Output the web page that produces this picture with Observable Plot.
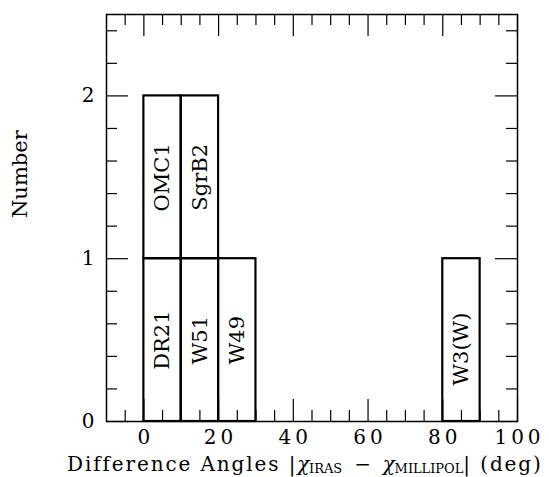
<!DOCTYPE html>
<html><head><meta charset="utf-8">
<script src="https://cdn.jsdelivr.net/npm/d3@7"></script>
<script src="https://cdn.jsdelivr.net/npm/@observablehq/plot@0.6"></script>
<style>
body{margin:0;background:#fff}
#chart svg{display:block}
#chart g[aria-label="x-axis tick label"] text{letter-spacing:4px}
</style></head><body><div id="chart"></div>
<script>
const sources = ["DR21", "OMC1", "W51", "SgrB2", "W49", "W3(W)"];
const binStart = [0, 0, 10, 10, 20, 80];
const binEnd = [10, 10, 20, 20, 30, 90];
const stackLow = [0, 1, 0, 1, 0, 0];
const stackHigh = [1, 2, 1, 2, 1, 1];
const xMajorTicks = [0, 20, 40, 60, 80, 100];
const xMinorTicks = [-5, 5, 10, 15, 25, 30, 35, 45, 50, 55, 65, 70, 75, 85, 90, 95];
const yMajorTicks = [0, 1, 2];
const yMinorTicks = [0.2, 0.4, 0.6, 0.8, 1.2, 1.4, 1.6, 1.8, 2.2, 2.4];

const W = 549, H = 477;
const mt = 14, mr = 32, mb = 56, ml = 106;
const pw = W - ml - mr, ph = H - mt - mb;
const big = 22, small = 11;
const idx = d3.range(sources.length);
const font = "'DejaVu Serif', serif";

const chart = Plot.plot({
  width: W, height: H,
  marginTop: mt, marginRight: mr, marginBottom: mb, marginLeft: ml,
  style: {fontFamily: font, fontSize: "20px", color: "black", background: "white"},
  x: {domain: [-10, 100]},
  y: {domain: [0, 2.5]},
  marks: [
    // ticks on all four sides, pointing inward
    Plot.ruleX(xMajorTicks, {x: d => d, insetTop: ph - big, stroke: "black", strokeWidth: 1.2}),
    Plot.ruleX(xMajorTicks, {x: d => d, insetBottom: ph - big, stroke: "black", strokeWidth: 1.2}),
    Plot.ruleX(xMinorTicks, {x: d => d, insetTop: ph - small, stroke: "black", strokeWidth: 1.2}),
    Plot.ruleX(xMinorTicks, {x: d => d, insetBottom: ph - small, stroke: "black", strokeWidth: 1.2}),
    Plot.ruleY(yMajorTicks, {y: d => d, insetRight: pw - big, stroke: "black", strokeWidth: 1.2}),
    Plot.ruleY(yMajorTicks, {y: d => d, insetLeft: pw - big, stroke: "black", strokeWidth: 1.2}),
    Plot.ruleY(yMinorTicks, {y: d => d, insetRight: pw - small, stroke: "black", strokeWidth: 1.2}),
    Plot.ruleY(yMinorTicks, {y: d => d, insetLeft: pw - small, stroke: "black", strokeWidth: 1.2}),
    Plot.rect(idx, {
      x1: i => binStart[i], x2: i => binEnd[i],
      y1: i => stackLow[i], y2: i => stackHigh[i],
      fill: "none", stroke: "black", strokeWidth: 2.2
    }),
    Plot.text(idx.filter(i => sources[i] !== "W3(W)"), {
      x: i => (binStart[i] + binEnd[i]) / 2,
      y: i => (stackLow[i] + stackHigh[i]) / 2,
      text: i => sources[i], rotate: -90, fontSize: 21, fill: "black"
    }),
    Plot.text(idx.filter(i => sources[i] === "W3(W)"), {
      x: i => (binStart[i] + binEnd[i]) / 2,
      y: i => (stackLow[i] + stackHigh[i]) / 2,
      text: i => sources[i], rotate: -90, fontSize: 21, fill: "black", dy: 9
    }),
    Plot.frame({stroke: "black", strokeWidth: 1.5}),
    Plot.axisX({ticks: xMajorTicks, tickFormat: d3.format("d"), tickSize: 0, tickPadding: 8, label: null, dx: 2, fontSize: 20}),
    Plot.axisY({ticks: yMajorTicks, tickFormat: d3.format("d"), tickSize: 0, tickPadding: 12, label: null, fontSize: 20}),
    Plot.text(["Number"], {frameAnchor: "left", dx: -86, rotate: -90, fontSize: 21, fill: "black"})
  ]
});

// x-axis title with subscripted chi symbols
const svg = d3.select(chart);
const t = svg.append("text")
  .attr("x", 67).attr("y", 471)
  .attr("text-anchor", "start")
  .attr("font-family", font).attr("font-size", 20).attr("fill", "black");
t.append("tspan").attr("letter-spacing", "2.2px").text("Difference Angles |");
t.append("tspan").attr("font-style", "italic").text("χ");
t.append("tspan").attr("font-size", 13).attr("dy", 2).attr("letter-spacing", "0.3px").text("IRAS");
t.append("tspan").attr("dy", -2).text("  −  ");
t.append("tspan").attr("font-style", "italic").text("χ");
t.append("tspan").attr("font-size", 13).attr("dy", 2).attr("letter-spacing", "0.3px").text("MILLIPOL");
t.append("tspan").attr("dy", -2).attr("letter-spacing", "2.2px").text("| (deg)");

document.getElementById("chart").appendChild(chart);

// fit the title to the reference's width by adjusting spacing only
t.attr("textLength", 476).attr("lengthAdjust", "spacing");
</script>
</body></html>
